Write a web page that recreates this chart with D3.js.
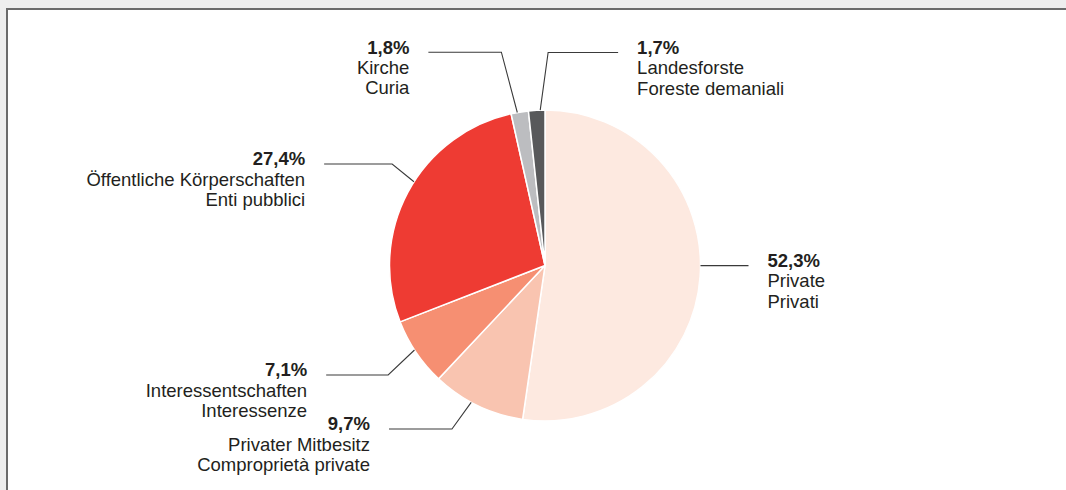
<!DOCTYPE html>
<html>
<head>
<meta charset="utf-8">
<script src="https://cdn.jsdelivr.net/npm/d3@7"></script>
<style>
  html, body { margin: 0; padding: 0; background: #eeeeee; }
  svg { display: block; }
  text { font-family: "Liberation Sans", Arial, sans-serif; font-size: 18.5px; fill: #231f20; }
  .pct { font-weight: bold; }
</style>
</head>
<body>
<div id="chart"></div>
<script>
// Waldbesitz / proprietà forestale
const shares = [52.3, 9.7, 7.1, 27.4, 1.8, 1.7];
const pctLabels = ["52,3%", "9,7%", "7,1%", "27,4%", "1,8%", "1,7%"];
const namesDe = ["Private", "Privater Mitbesitz", "Interessentschaften", "Öffentliche Körperschaften", "Kirche", "Landesforste"];
const namesIt = ["Privati", "Comproprietà private", "Interessenze", "Enti pubblici", "Curia", "Foreste demaniali"];
const sliceColors = ["#fde9e0", "#f9c4b0", "#f68f72", "#ee3b33", "#bcbdc0", "#58595b"];

const width = 1066, height = 490;
const cx = 545, cy = 265.5, radius = 155.5;

// leader line tweaks: start angle offset, elbow angle offset (deg), elbow radius factor, horizontal length
const leader = [
  { a0: -4.1, a1: -4.1, k: 1.0, len: 48 },
  { a0: 2.6, a1: 3.9, k: 1.21, len: 63 },
  { a0: 1.1, a1: -0.9, k: 1.23, len: 62 },
  { a0: 4.5, a1: 5.5, k: 1.18, len: 68 },
  { a0: -0.9, a1: -2.2, k: 1.4, len: 73 },
  { a0: 1.3, a1: 3.9, k: 1.37, len: 70 }
];

const svg = d3.select("#chart").append("svg")
  .attr("width", width)
  .attr("height", height);

// panel
svg.append("rect")
  .attr("x", 7).attr("y", 9)
  .attr("width", width).attr("height", height)
  .attr("fill", "#ffffff");
svg.append("path")
  .attr("d", `M7,${height} V9 H${width}`)
  .attr("fill", "none")
  .attr("stroke", "#6b6b6b")
  .attr("stroke-width", 2);

const g = svg.append("g").attr("transform", `translate(${cx},${cy})`);

const pie = d3.pie().sort(null).value(d => d);
const arcs = pie(shares);
const arc = d3.arc().innerRadius(0).outerRadius(radius);

g.selectAll(".wedge").data(arcs).enter()
  .append("path")
  .attr("class", "wedge")
  .attr("d", arc)
  .attr("fill", (d, i) => sliceColors[i])
  .attr("stroke", "#ffffff")
  .attr("stroke-width", 1.5);

function polar(angleDeg, r) {
  const a = angleDeg * Math.PI / 180;
  return [Math.sin(a) * r, -Math.cos(a) * r];
}

const labels = g.selectAll(".label").data(arcs).enter()
  .append("g").attr("class", "label");

labels.each(function (d, i) {
  const sel = d3.select(this);
  const mid = (d.startAngle + d.endAngle) / 2 * 180 / Math.PI;
  const L = leader[i];
  const p0 = polar(mid + L.a0, radius);
  const p1 = polar(mid + L.a1, radius * L.k);
  const right = p1[0] > 0 || i === 0;
  const p2 = [p1[0] + (right ? L.len : -L.len), p1[1]];
  const pts = L.k === 1 ? [p0, p2] : [p0, p1, p2];

  sel.append("path")
    .attr("d", d3.line()(pts))
    .attr("fill", "none")
    .attr("stroke", "#3a3a3a")
    .attr("stroke-width", 1.1);

  const tx = p2[0] + (right ? 19 : -19);
  const t = sel.append("text")
    .attr("x", tx)
    .attr("y", p2[1] + 1.4)
    .attr("text-anchor", right ? "start" : "end");
  t.append("tspan").attr("class", "pct").attr("x", tx).text(pctLabels[i]);
  t.append("tspan").attr("x", tx).attr("dy", 20.4).text(namesDe[i]);
  t.append("tspan").attr("x", tx).attr("dy", 20.4).text(namesIt[i]);
});
</script>
</body>
</html>
